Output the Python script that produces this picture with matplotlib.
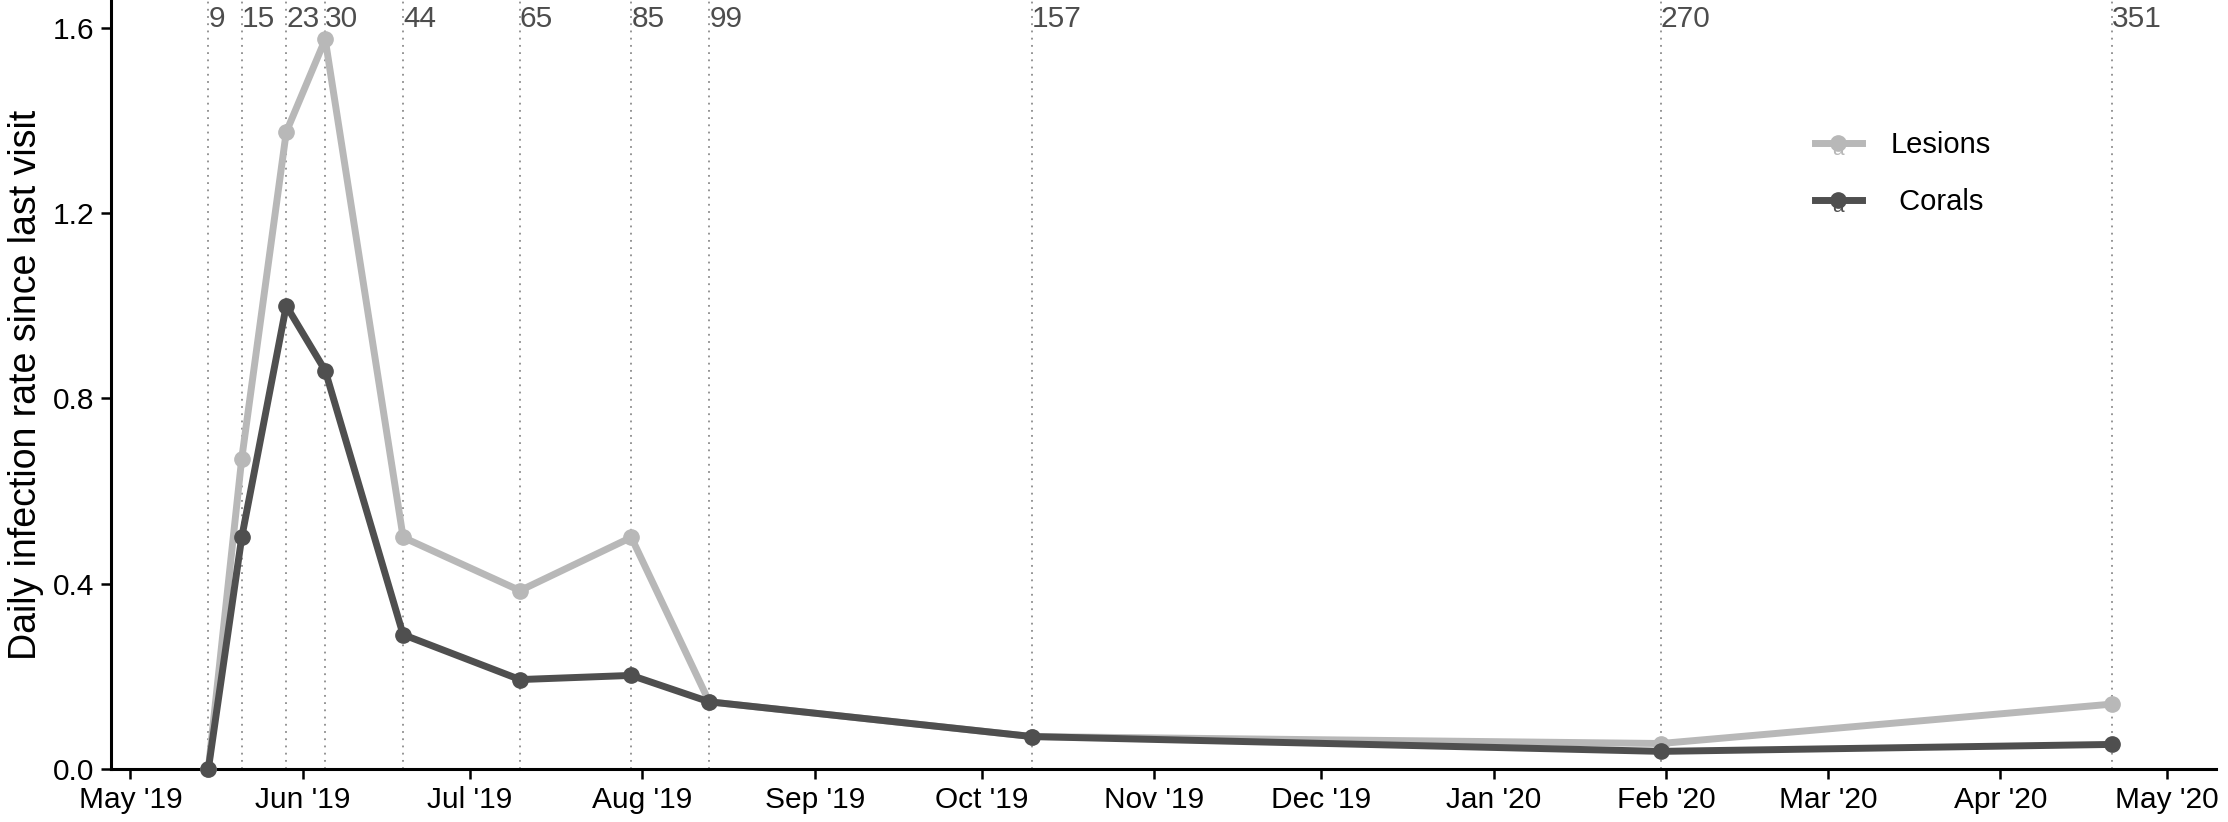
import matplotlib
matplotlib.use("Agg")
import matplotlib.pyplot as plt
import matplotlib.dates as mdates
from matplotlib.legend_handler import HandlerLine2D
from matplotlib.text import Text
import numpy as np

plt.rcParams['font.family'] = ['Liberation Sans', 'DejaVu Sans']

# days since first survey (2019-05-06)
start_date = np.datetime64('2019-05-06')
days = [9, 15, 23, 30, 44, 65, 85, 99, 157, 270, 351]
lesions = [0.0, 0.67, 1.375, 1.575, 0.50, 0.385, 0.50, 0.145, 0.07, 0.055, 0.14]
corals = [0.0, 0.50, 1.00, 0.86, 0.29, 0.193, 0.202, 0.145, 0.07, 0.038, 0.053]
yticks = [0.0, 0.4, 0.8, 1.2, 1.6]

lesion_col = '#b8b8b8'
coral_col = '#4f4f4f'

dates = (start_date + np.array(days, dtype='timedelta64[D]')).astype('datetime64[D]').astype(object)


class KeyWithA(HandlerLine2D):
    # ggplot-style legend key: line + point + the little "a" from the text layer
    def create_artists(self, legend, orig_handle, xdescent, ydescent, width, height, fontsize, trans):
        arts = super().create_artists(legend, orig_handle, xdescent, ydescent,
                                      width, height, fontsize, trans)
        t = Text(width / 2 - xdescent, (height - ydescent) / 2 - 5, 'a',
                 color=orig_handle.get_color(), ha='center', va='center',
                 fontsize=15, transform=trans)
        return [t] + arts


fig = plt.figure(figsize=(22.28, 8.22), dpi=100)
ax = fig.add_axes([0.0498, 0.0645, 0.9448, 0.9355])

# survey day markers
for d, dt in zip(days, dates):
    ax.axvline(dt, color='#8c8c8c', ls=(0, (1, 3)), lw=1.3, zorder=1)
    ax.text(dt, 0.965, str(d), transform=ax.get_xaxis_transform(), ha='left',
            va='baseline', fontsize=21.5, color='#4d4d4d')

ax.plot(dates, lesions, color=lesion_col, lw=5, marker='o', ms=11,
        label='Lesions', zorder=3, clip_on=False)
ax.plot(dates, corals, color=coral_col, lw=5, marker='o', ms=11,
        label=' Corals', zorder=4, clip_on=False)

ax.set_xlim(np.datetime64('2019-04-27T12'), np.datetime64('2020-05-09T18'))
ax.set_ylim(0, 1.66)
ax.set_yticks(yticks)
ax.set_yticklabels([f'{v:.1f}' for v in yticks])
ax.xaxis.set_major_locator(mdates.MonthLocator())
ax.xaxis.set_major_formatter(mdates.DateFormatter("%b '%y"))

ax.set_ylabel('Daily infection rate since last visit', fontsize=27, labelpad=6)
ax.tick_params(axis='both', labelsize=21.5, length=7, width=1.8, direction='out', color='black')
ax.tick_params(axis='x', pad=5)
ax.tick_params(axis='y', pad=5)
for s in ['top', 'right']:
    ax.spines[s].set_visible(False)
for s in ['left', 'bottom']:
    ax.spines[s].set_linewidth(2.2)

leg = ax.legend(loc='upper left', bbox_to_anchor=(0.797, 0.864), frameon=False,
                fontsize=21, handlelength=1.6, handletextpad=1.0, labelspacing=1.0,
                handler_map={plt.Line2D: KeyWithA()})

fig.savefig('out.png', dpi=100)
